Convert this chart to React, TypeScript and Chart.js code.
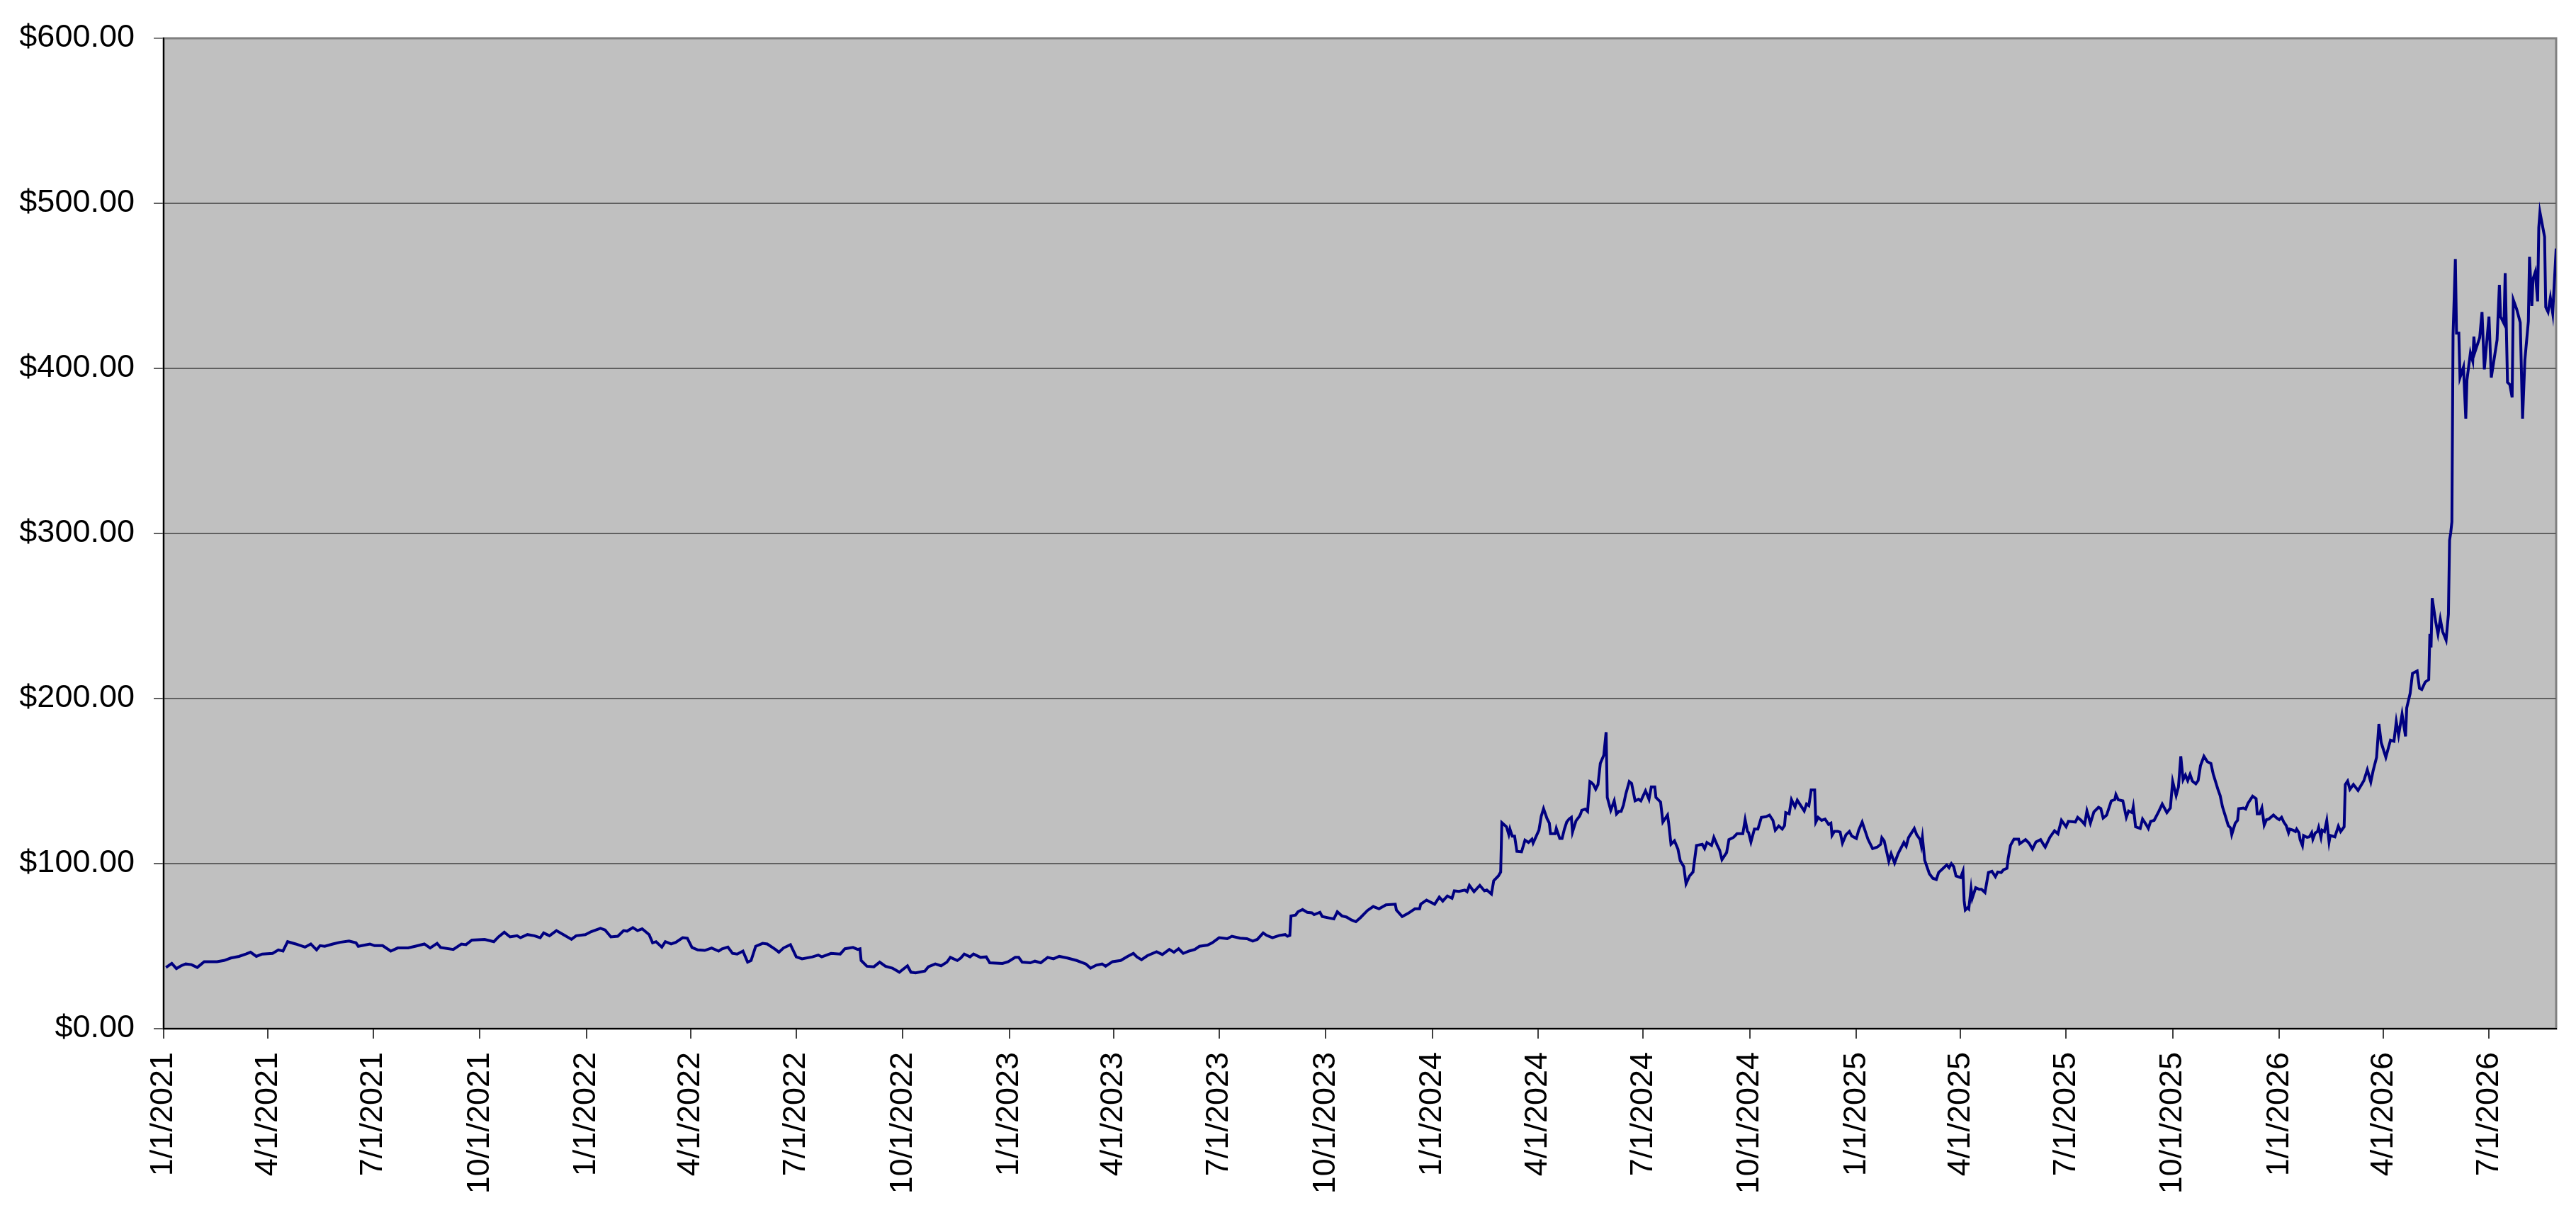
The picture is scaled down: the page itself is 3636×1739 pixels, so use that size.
import React, { useRef, useEffect } from 'react';
import { Chart, registerables } from 'chart.js';

Chart.register(...registerables);

// x values are calendar days counted from 1/1/2021
const START_DATE = Date.UTC(2021, 0, 1);

const tickLabels = [
  '1/1/2021', '4/1/2021', '7/1/2021', '10/1/2021',
  '1/1/2022', '4/1/2022', '7/1/2022', '10/1/2022',
  '1/1/2023', '4/1/2023', '7/1/2023', '10/1/2023',
  '1/1/2024', '4/1/2024', '7/1/2024', '10/1/2024',
  '1/1/2025', '4/1/2025', '7/1/2025', '10/1/2025',
  '1/1/2026', '4/1/2026', '7/1/2026',
];

const days2021 = [2, 7, 11, 15, 19, 24, 29, 35, 46, 52, 58, 65, 71, 75, 80, 85, 94, 99, 103, 107, 114, 122, 127, 132, 135, 139, 146, 152, 160, 166, 168, 178, 182, 189, 196, 202, 211, 217, 225, 230, 236, 239, 250, 257, 261, 266, 277, 285, 289, 294, 299, 305, 308, 314, 320, 325, 328, 333, 339, 345, 352, 356, 364];
const prices2021 = [37.1, 39.5, 36.4, 38.1, 39.2, 38.8, 37.1, 40.6, 40.6, 41.3, 42.8, 43.8, 45.2, 46.3, 43.8, 45.2, 45.6, 47.7, 47.0, 52.7, 51.3, 49.4, 51.3, 47.7, 50.3, 49.9, 51.3, 52.3, 53.1, 52.0, 49.9, 51.3, 50.3, 50.3, 47.0, 48.9, 48.9, 49.9, 51.3, 48.9, 51.7, 49.2, 48.0, 51.3, 50.9, 53.7, 54.1, 52.7, 55.6, 58.4, 55.6, 56.3, 55.1, 57.0, 56.3, 55.1, 58.0, 56.3, 59.4, 57.0, 54.1, 56.3, 57.0];

const days2022 = [369, 377, 381, 386, 392, 397, 400, 405, 409, 413, 419, 422, 425, 430, 433, 438, 442, 448, 452, 456, 461, 467, 473, 479, 482, 487, 491, 495, 500, 504, 507, 511, 517, 521, 528, 531, 535, 541, 546, 551, 560, 565, 568, 576, 584, 588, 595, 599, 601, 602, 607, 613, 618, 623, 629, 635, 642, 645, 649, 657, 660, 666, 671, 676, 679, 685, 688, 691, 696, 699, 705, 710, 713, 724, 729];
const prices2022 = [58.8, 60.8, 59.8, 55.6, 56.0, 59.4, 59.1, 61.2, 59.4, 60.5, 57.0, 52.0, 52.7, 49.4, 52.7, 51.3, 52.3, 55.1, 54.8, 49.2, 47.7, 47.4, 48.9, 47.0, 48.4, 49.4, 45.6, 45.2, 47.0, 40.3, 41.3, 49.9, 51.7, 51.3, 48.0, 46.3, 48.9, 50.9, 43.5, 42.3, 43.5, 44.6, 43.5, 45.6, 45.2, 48.4, 49.2, 48.0, 48.4, 41.3, 37.8, 37.5, 40.3, 37.8, 36.7, 34.2, 38.1, 34.2, 33.8, 34.9, 37.5, 39.2, 38.1, 40.3, 43.2, 41.3, 42.8, 45.2, 43.5, 45.2, 43.2, 43.5, 39.9, 39.5, 40.6];

const days2023 = [735, 738, 741, 748, 752, 757, 763, 768, 773, 780, 788, 796, 800, 805, 810, 813, 819, 826, 832, 837, 840, 844, 849, 857, 862, 868, 872, 876, 880, 885, 890, 894, 901, 905, 911, 918, 922, 929, 935, 940, 944, 949, 952, 957, 963, 968, 970, 972, 973, 977, 979, 983, 987, 991, 993, 998, 1000, 1007, 1010, 1013, 1017, 1021, 1025, 1029, 1033, 1039, 1044, 1049, 1055, 1063, 1064, 1069, 1074, 1080, 1084, 1085, 1090];
const prices2023 = [43.2, 43.2, 40.3, 39.9, 40.9, 39.9, 43.2, 42.3, 43.8, 42.8, 41.3, 39.2, 36.7, 38.5, 39.2, 37.8, 40.6, 41.3, 43.8, 45.6, 43.5, 41.8, 44.2, 46.6, 44.9, 48.0, 46.3, 48.4, 45.6, 47.0, 48.0, 49.9, 50.6, 52.0, 55.1, 54.5, 56.0, 54.8, 54.5, 53.1, 54.1, 58.0, 56.5, 55.1, 56.5, 57.0, 56.0, 56.5, 68.3, 68.8, 70.8, 72.2, 70.5, 70.2, 69.1, 70.5, 67.9, 66.9, 66.5, 70.8, 68.3, 67.6, 65.9, 64.8, 67.3, 71.6, 74.0, 72.6, 75.0, 75.4, 71.9, 67.9, 69.8, 72.6, 72.6, 75.4, 77.9];

const days2024 = [1097, 1101, 1104, 1108, 1112, 1114, 1118, 1123, 1125, 1127, 1131, 1136, 1140, 1142, 1146, 1148, 1152, 1154, 1155, 1159, 1161, 1162, 1164, 1166, 1168, 1172, 1175, 1178, 1181, 1182, 1187, 1189, 1191, 1194, 1196, 1197, 1201, 1202, 1205, 1207, 1209, 1211, 1213, 1215, 1216, 1219, 1222, 1223, 1224, 1227, 1229, 1231, 1232, 1234, 1236, 1238, 1240, 1243, 1245, 1246, 1249, 1252, 1254, 1256, 1258, 1260, 1262, 1265, 1267, 1270, 1273, 1275, 1279, 1282, 1284, 1287, 1288, 1292, 1294, 1298, 1299, 1301, 1304, 1307, 1309, 1312, 1314, 1317, 1320, 1323, 1328, 1330, 1332, 1336, 1338, 1341, 1343, 1345, 1349, 1351, 1355, 1358, 1363, 1365, 1367, 1368, 1370, 1373, 1376, 1379, 1383, 1386, 1389, 1391, 1394, 1397, 1399, 1400, 1403, 1405, 1408, 1410, 1414, 1416, 1418, 1420, 1422, 1425, 1426, 1428, 1431, 1434, 1437, 1439, 1440, 1442, 1445, 1447, 1449, 1452, 1455, 1457];
const prices2024 = [75.4, 79.7, 77.3, 80.4, 79.0, 83.5, 83.2, 84.0, 83.0, 86.8, 83.0, 86.8, 83.5, 84.0, 81.6, 89.6, 92.5, 94.9, 124.8, 122.3, 117.6, 120.9, 116.6, 116.6, 107.4, 107.1, 114.2, 112.8, 114.8, 112.4, 120.2, 128.7, 133.3, 127.3, 124.5, 118.1, 118.1, 121.3, 115.2, 115.2, 120.9, 125.2, 127.0, 128.0, 119.1, 125.9, 128.7, 130.1, 132.3, 133.0, 131.6, 149.7, 149.3, 147.9, 145.1, 147.9, 160.7, 165.7, 179.6, 140.1, 132.3, 138.0, 130.1, 131.6, 131.6, 135.5, 142.2, 149.7, 148.6, 138.0, 139.0, 138.0, 144.1, 139.0, 146.5, 146.5, 140.1, 137.3, 125.2, 129.4, 124.5, 111.7, 113.8, 108.8, 101.7, 98.2, 87.8, 92.5, 94.9, 111.0, 111.7, 109.1, 112.8, 111.0, 115.9, 111.0, 108.1, 102.4, 106.7, 114.5, 115.9, 118.1, 118.1, 126.6, 119.5, 118.8, 113.1, 120.9, 120.9, 128.0, 128.4, 129.4, 126.2, 120.2, 122.8, 120.9, 123.0, 130.9, 130.1, 138.7, 134.4, 138.4, 134.1, 131.9, 136.1, 135.1, 144.6, 144.6, 125.2, 128.0, 126.2, 127.0, 123.8, 124.5, 117.1, 119.5, 119.5, 119.1, 112.4, 117.4, 119.5, 116.7];

const days2025 = [1461, 1463, 1466, 1471, 1475, 1479, 1482, 1483, 1485, 1489, 1491, 1494, 1497, 1502, 1504, 1506, 1511, 1513, 1516, 1517, 1518, 1520, 1524, 1527, 1530, 1532, 1536, 1539, 1541, 1543, 1545, 1547, 1551, 1553, 1554, 1555, 1557, 1558, 1560, 1561, 1564, 1567, 1569, 1572, 1575, 1578, 1581, 1583, 1586, 1588, 1591, 1592, 1594, 1597, 1601, 1602, 1607, 1610, 1613, 1616, 1620, 1623, 1624, 1628, 1632, 1635, 1638, 1642, 1644, 1650, 1652, 1655, 1658, 1660, 1663, 1666, 1670, 1672, 1674, 1677, 1681, 1684, 1685, 1687, 1691, 1694, 1696, 1699, 1700, 1702, 1706, 1708, 1711, 1713, 1715, 1718, 1722, 1725, 1729, 1732, 1734, 1737, 1739, 1741, 1743, 1745, 1747, 1749, 1751, 1754, 1756, 1758, 1761, 1764, 1767, 1769, 1773, 1775, 1777, 1780, 1782, 1784, 1785, 1788, 1790, 1791, 1795, 1797, 1799, 1803, 1806, 1807, 1809, 1811, 1812, 1813, 1815, 1817, 1821, 1824];
const prices2025 = [115.2, 120.2, 125.2, 114.8, 109.1, 110.0, 111.7, 115.7, 113.8, 101.4, 106.0, 100.3, 106.0, 112.8, 110.5, 115.7, 121.3, 117.6, 114.5, 111.0, 115.9, 102.0, 93.9, 91.1, 90.4, 94.6, 97.2, 99.2, 97.5, 100.0, 98.2, 92.5, 91.5, 95.3, 77.6, 71.9, 73.3, 72.6, 84.7, 79.0, 85.4, 84.4, 84.4, 82.5, 94.6, 95.3, 92.1, 94.9, 94.6, 96.3, 97.2, 103.1, 111.0, 114.8, 114.8, 112.0, 114.5, 112.4, 108.8, 113.1, 114.5, 111.0, 110.0, 115.9, 119.9, 118.1, 126.2, 122.3, 125.6, 125.2, 128.0, 126.2, 123.8, 131.9, 124.5, 131.3, 134.1, 133.3, 127.6, 129.4, 138.0, 138.7, 141.8, 138.7, 138.0, 128.0, 131.9, 130.9, 134.4, 122.3, 121.3, 127.0, 123.8, 121.3, 125.6, 126.2, 131.6, 136.1, 130.9, 133.7, 149.8, 141.2, 146.5, 165.0, 150.8, 153.6, 150.3, 154.0, 150.0, 148.3, 150.3, 159.3, 165.0, 161.7, 160.7, 154.3, 145.1, 141.2, 134.4, 127.6, 123.0, 121.6, 117.6, 124.5, 126.2, 133.3, 133.7, 133.0, 136.5, 140.8, 139.3, 130.1, 130.1, 133.7, 128.7, 123.3, 126.6, 127.0, 129.4, 127.5];

const days2026 = [1826, 1828, 1830, 1832, 1834, 1835, 1838, 1840, 1841, 1843, 1844, 1846, 1847, 1850, 1852, 1854, 1855, 1857, 1859, 1860, 1862, 1863, 1865, 1867, 1869, 1870, 1874, 1877, 1879, 1882, 1883, 1885, 1887, 1890, 1894, 1899, 1902, 1905, 1907, 1910, 1912, 1914, 1918, 1922, 1925, 1927, 1929, 1932, 1935, 1936, 1939, 1941, 1945, 1947, 1949, 1952, 1955, 1956, 1957, 1958, 1961, 1963, 1965, 1967, 1970, 1972, 1973, 1974, 1975, 1976, 1978, 1979, 1981, 1982, 1985, 1987, 1988, 1991, 1993, 1994, 1995, 1999, 2001, 2003, 2007, 2009, 2014, 2016, 2017, 2020, 2021, 2023, 2025, 2027, 2028, 2031, 2034, 2036, 2038, 2041, 2042, 2044, 2045, 2047, 2049, 2050, 2051, 2055, 2056, 2058, 2060, 2062, 2065];
const prices2026 = [126.6, 128.0, 125.1, 123.0, 118.7, 120.9, 120.2, 119.4, 120.9, 118.7, 114.5, 110.9, 117.0, 115.9, 116.2, 118.7, 114.8, 118.5, 119.4, 121.9, 115.9, 120.2, 119.4, 126.1, 113.1, 117.0, 116.2, 122.7, 119.4, 122.3, 147.9, 150.0, 145.0, 147.9, 144.3, 150.2, 156.9, 149.4, 156.2, 164.4, 184.5, 173.3, 164.4, 174.8, 174.1, 186.0, 177.8, 190.5, 177.1, 194.3, 203.2, 215.2, 216.7, 206.2, 205.5, 210.0, 211.5, 239.1, 230.9, 260.8, 246.6, 239.1, 248.1, 240.6, 235.4, 251.1, 295.9, 300.4, 307.0, 420.0, 466.2, 421.4, 421.4, 394.4, 400.8, 369.6, 393.0, 409.4, 404.4, 419.3, 410.1, 418.6, 434.2, 399.4, 431.4, 394.4, 417.2, 450.6, 431.4, 427.1, 457.7, 391.6, 390.2, 382.4, 441.6, 435.7, 427.8, 369.6, 405.1, 428.5, 467.6, 437.8, 454.1, 458.4, 440.6, 485.4, 494.6, 479.7, 437.1, 434.2, 442.8, 433.5, 472.6];

const dayGroups = [days2021, days2022, days2023, days2024, days2025, days2026];
const priceGroups = [prices2021, prices2022, prices2023, prices2024, prices2025, prices2026];

const X_MAX_DAY = 2065; // plot runs to late August 2026

function dayOffset(label: string) {
  const [m, d, y] = label.split('/').map(Number);
  return Math.round((Date.UTC(y, m - 1, d) - START_DATE) / 86400000);
}

const tickDays = tickLabels.map(dayOffset);

function buildPoints() {
  const pts: { x: number; y: number }[] = [];
  dayGroups.forEach((days, g) => {
    const prices = priceGroups[g];
    const n = Math.min(days.length, prices.length);
    for (let i = 0; i < n; i++) pts.push({ x: days[i], y: prices[i] });
  });
  return pts;
}

// grey plot area with a darker frame, like the spreadsheet original
const plotBackground = {
  id: 'plotBackground',
  beforeDraw(chart: any) {
    const { ctx, chartArea } = chart;
    const { left, top, right, bottom } = chartArea;
    ctx.save();
    ctx.fillStyle = '#C0C0C0';
    ctx.fillRect(left, top, right - left, bottom - top);
    ctx.strokeStyle = '#808080';
    ctx.lineWidth = 3;
    ctx.strokeRect(left, top, right - left, bottom - top);
    ctx.restore();
  },
};

function PriceChart() {
  const canvasRef = useRef<HTMLCanvasElement>(null);

  useEffect(() => {
    if (!canvasRef.current) return;
    const chart = new Chart(canvasRef.current, {
      type: 'line',
      data: {
        datasets: [
          {
            data: buildPoints(),
            borderColor: '#000080',
            borderWidth: 4,
            pointRadius: 0,
            tension: 0,
            fill: false,
          },
        ],
      },
      options: {
        animation: false,
        responsive: false,
        devicePixelRatio: 1,
        layout: { padding: { top: 44, right: 28, left: 0, bottom: 0 } },
        plugins: {
          legend: { display: false },
          tooltip: { enabled: false },
        },
        scales: {
          x: {
            type: 'linear',
            min: 0,
            max: X_MAX_DAY,
            afterFit: (scale: any) => {
              scale.height = 287;
            },
            afterBuildTicks: (scale: any) => {
              scale.ticks = tickDays.map((v) => ({ value: v }));
            },
            grid: {
              drawOnChartArea: false,
              drawTicks: true,
              tickLength: 14,
              color: '#404040',
              lineWidth: 2,
            },
            border: { color: '#000000', width: 2 },
            ticks: {
              autoSkip: false,
              minRotation: 90,
              maxRotation: 90,
              padding: 19,
              color: '#000000',
              font: { family: '"Liberation Sans", Arial, sans-serif', size: 45 },
              callback: (_v: any, i: number) => tickLabels[i],
            },
          },
          y: {
            min: 0,
            max: 600,
            afterFit: (scale: any) => {
              scale.width = 231;
            },
            grid: {
              color: (c: any) => (c.tick && c.tick.value === 600 ? '#808080' : '#606060'),
              lineWidth: 2,
              tickLength: 14,
            },
            border: { color: '#000000', width: 2 },
            ticks: {
              stepSize: 100,
              padding: 27,
              color: '#000000',
              font: { family: '"Liberation Sans", Arial, sans-serif', size: 45 },
              callback: (v: any) => '$' + Number(v).toFixed(2),
            },
          },
        },
      },
      plugins: [plotBackground],
    });
    return () => chart.destroy();
  }, []);

  return (
    <div style={{ position: 'absolute', left: 0, top: 0, width: 3636, height: 1739, background: '#ffffff' }}>
      <canvas ref={canvasRef} width={3636} height={1739} style={{ width: 3636, height: 1739 }} />
    </div>
  );
}

export default function App() {
  return <PriceChart />;
}
